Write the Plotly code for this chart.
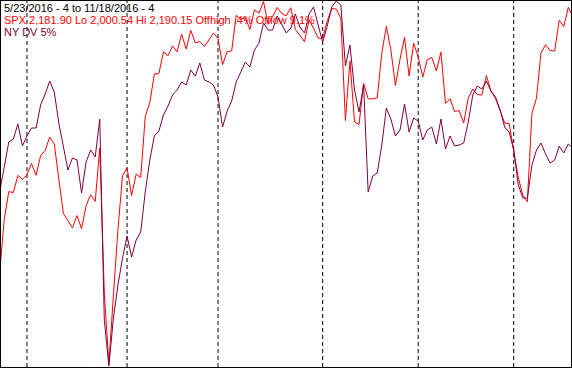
import plotly.graph_objects as go

# Trading days shown on the chart
dates = [
    "5/23/2016", "5/24/2016", "5/25/2016", "5/26/2016", "5/27/2016", "5/31/2016",
    "6/1/2016", "6/2/2016", "6/3/2016", "6/6/2016", "6/7/2016", "6/8/2016", "6/9/2016", "6/10/2016",
    "6/13/2016", "6/14/2016", "6/15/2016", "6/16/2016", "6/17/2016", "6/20/2016", "6/21/2016",
    "6/22/2016", "6/23/2016", "6/24/2016", "6/27/2016", "6/28/2016", "6/29/2016", "6/30/2016",
    "7/1/2016", "7/5/2016", "7/6/2016", "7/7/2016", "7/8/2016", "7/11/2016", "7/12/2016", "7/13/2016",
    "7/14/2016", "7/15/2016", "7/18/2016", "7/19/2016", "7/20/2016", "7/21/2016", "7/22/2016",
    "7/25/2016", "7/26/2016", "7/27/2016", "7/28/2016", "7/29/2016",
    "8/1/2016", "8/2/2016", "8/3/2016", "8/4/2016", "8/5/2016", "8/8/2016", "8/9/2016", "8/10/2016",
    "8/11/2016", "8/12/2016", "8/15/2016", "8/16/2016", "8/17/2016", "8/18/2016", "8/19/2016",
    "8/22/2016", "8/23/2016", "8/24/2016", "8/25/2016", "8/26/2016", "8/29/2016", "8/30/2016", "8/31/2016",
    "9/1/2016", "9/2/2016", "9/6/2016", "9/7/2016", "9/8/2016", "9/9/2016", "9/12/2016", "9/13/2016",
    "9/14/2016", "9/15/2016", "9/16/2016", "9/19/2016", "9/20/2016", "9/21/2016", "9/22/2016",
    "9/23/2016", "9/26/2016", "9/27/2016", "9/28/2016", "9/29/2016", "9/30/2016",
    "10/3/2016", "10/4/2016", "10/5/2016", "10/6/2016", "10/7/2016", "10/10/2016", "10/11/2016",
    "10/12/2016", "10/13/2016", "10/14/2016", "10/17/2016", "10/18/2016", "10/19/2016", "10/20/2016",
    "10/21/2016", "10/24/2016", "10/25/2016", "10/26/2016", "10/27/2016", "10/28/2016", "10/31/2016",
    "11/1/2016", "11/2/2016", "11/3/2016", "11/4/2016", "11/7/2016", "11/8/2016", "11/9/2016",
    "11/10/2016", "11/11/2016", "11/14/2016", "11/15/2016", "11/16/2016", "11/17/2016", "11/18/2016",
]

spx = [
    2048.04, 2076.06, 2090.54, 2090.10, 2099.06, 2096.95, 2099.33, 2105.26, 2099.13, 2109.41,
    2112.13, 2119.12, 2115.48, 2096.07, 2079.06, 2075.32, 2071.50, 2077.99, 2071.22, 2083.25,
    2088.90, 2085.45, 2113.32, 2037.41, 2000.54, 2036.09, 2070.77, 2098.86, 2102.95, 2088.55,
    2099.73, 2097.90, 2129.90, 2137.16, 2152.14, 2152.43, 2163.75, 2161.74, 2166.89, 2163.78,
    2173.02, 2165.17, 2175.03, 2168.48, 2169.18, 2166.58, 2170.06, 2173.60, 2170.84, 2157.03,
    2163.79, 2164.25, 2182.87, 2180.89, 2181.74, 2175.49, 2185.79, 2184.05, 2190.15, 2178.15,
    2182.22, 2187.02, 2183.87, 2182.64, 2186.90, 2175.44, 2172.47, 2169.04, 2180.38, 2176.12,
    2170.95, 2170.86, 2179.98, 2186.48, 2186.16, 2181.30, 2127.81, 2159.04, 2127.02, 2125.77,
    2147.26, 2139.16, 2139.12, 2139.76, 2163.12, 2177.18, 2164.69, 2146.10, 2159.93, 2171.37,
    2151.13, 2168.27, 2161.20, 2150.49, 2159.73, 2160.77, 2153.74, 2163.66, 2136.73, 2139.18,
    2132.55, 2132.98, 2126.50, 2139.60, 2144.29, 2141.34, 2141.16, 2151.33, 2143.16, 2139.43,
    2133.04, 2126.41, 2126.15, 2111.72, 2097.94, 2088.66, 2085.18, 2131.52, 2139.56, 2163.26,
    2167.48, 2164.45, 2164.20, 2180.39, 2176.94, 2187.12, 2181.90,
]

# NY DV 5% (arbitrary index units)
ny_dv = [
    174, 198, 224, 227, 242, 220, 230, 238, 238, 261,
    272, 285, 274, 243, 218, 196, 208, 206, 173, 204,
    216, 209, 247, 46, 0, 48, 81, 108, 130, 109,
    126, 134, 174, 206, 230, 235, 251, 260, 271, 276,
    284, 281, 296, 290, 303, 286, 284, 281, 269, 239,
    255, 265, 284, 294, 304, 299, 316, 323, 343, 336,
    336, 350, 341, 333, 338, 352, 339, 333, 352, 359,
    341, 324, 340, 359, 365, 361, 300, 321, 276, 254,
    281, 174, 190, 193, 221, 258, 247, 230, 236, 262,
    234, 248, 245, 226, 236, 239, 222, 247, 217, 230,
    220, 221, 223, 244, 271, 280, 277, 285, 275, 269,
    256, 239, 234, 216, 181, 168, 168, 201, 216, 223,
    212, 203, 206, 220, 213, 222, 218,
]

RED = "#FF0000"
PURPLE = "#800040"
FONT = "Liberation Sans, Arial, sans-serif"

x = list(range(len(dates)))
month_starts = [i for i in range(1, len(dates))
                if dates[i].split("/")[0] != dates[i - 1].split("/")[0]]

fig = go.Figure()
fig.add_trace(go.Scatter(x=x, y=spx, mode="lines", line=dict(color=RED, width=1),
                         yaxis="y", hoverinfo="skip"))
fig.add_trace(go.Scatter(x=x, y=ny_dv, mode="lines", line=dict(color=PURPLE, width=1),
                         yaxis="y2", hoverinfo="skip"))

for i in month_starts:
    fig.add_shape(type="line", xref="x", yref="paper", x0=i, x1=i, y0=0, y1=1,
                  line=dict(color="black", width=1, dash="4px,3px"), layer="below")

last, lo, hi = spx[-1], min(spx), max(spx)
offhigh = f"{(hi - last) / hi * 100:.1f}".lstrip("0")
offlow = f"{(last / lo - 1) * 100:.1f}"
line1 = f"{dates[0]} - 4 to {dates[-1]} - 4"
line2 = f"SPX {last:,.2f} Lo {lo:,.2f} Hi {hi:,.2f} Offhigh {offhigh}% Offlow {offlow}%"
line3 = "NY DV 5%"

for k, (txt, col) in enumerate([(line1, "black"), (line2, RED), (line3, PURPLE)]):
    fig.add_annotation(text=txt, xref="paper", yref="paper", x=0, y=1,
                       xanchor="left", yanchor="top", showarrow=False,
                       xshift=2, yshift=-12 * k, borderpad=0,
                       font=dict(family=FONT, size=11, color=col))

fig.update_layout(
    width=572, height=368,
    margin=dict(l=1, r=1, t=1, b=1, pad=0),
    showlegend=False,
    plot_bgcolor="white", paper_bgcolor="white",
    xaxis=dict(range=[0.29, 125.59], showgrid=False, zeroline=False, showticklabels=False,
               ticks="", showline=True, mirror=True, linecolor="black", linewidth=1),
    yaxis=dict(range=[1998.7, 2190.4], showgrid=False, zeroline=False, showticklabels=False,
               ticks="", showline=True, mirror=True, linecolor="black", linewidth=1),
    yaxis2=dict(range=[-1, 365], overlaying="y", visible=False, showgrid=False, zeroline=False),
)

fig.write_html("out.html")
